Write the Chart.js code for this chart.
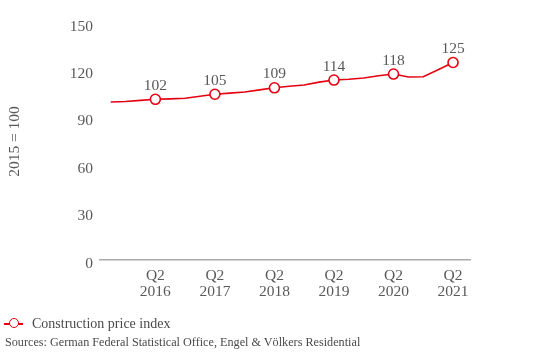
<!DOCTYPE html>
<html>
<head>
<meta charset="utf-8">
<script src="https://cdn.jsdelivr.net/npm/chart.js@4.4.1/dist/chart.umd.min.js"></script>
<style>
  body { margin: 0; background: #fff; font-family: "Liberation Serif", "Times New Roman", serif; }
  #wrap { position: relative; width: 538px; height: 363px; }
  #legend { position: absolute; left: 4px; top: 316px; font-size: 14px; color: #4a4a4a; display: flex; align-items: center; }
  .sym { position: relative; width: 19px; height: 1.6px; background: #e60012; margin-right: 9px; }
  .sym::after { content: ""; position: absolute; left: 4.5px; top: -5px; width: 8px; height: 8px; border: 1.6px solid #e60012; border-radius: 50%; background: #fff; }
  #source { position: absolute; left: 5px; top: 335px; font-size: 12.2px; color: #4a4a4a; }
</style>
</head>
<body>
<div id="wrap">
  <canvas id="chart"></canvas>
  <div id="legend"><span class="sym"></span>Construction price index</div>
  <div id="source">Sources: German Federal Statistical Office, Engel &amp; Völkers Residential</div>
</div>
<script>
// Quarterly construction price index, Q3 2015 - Q2 2021 (2015 = 100)
const quarters = ['Q3 2015', 'Q4 2015', 'Q1 2016', 'Q2 2016', 'Q3 2016', 'Q4 2016',
                  'Q1 2017', 'Q2 2017', 'Q3 2017', 'Q4 2017', 'Q1 2018', 'Q2 2018',
                  'Q3 2018', 'Q4 2018', 'Q1 2019', 'Q2 2019', 'Q3 2019', 'Q4 2019',
                  'Q1 2020', 'Q2 2020', 'Q3 2020', 'Q4 2020', 'Q1 2021', 'Q2 2021'];
const indexValues = [100.0, 100.3, 101.0, 101.7, 102.0, 102.4,
                     103.6, 104.9, 105.6, 106.3, 107.7, 109.0,
                     110.0, 110.8, 112.6, 113.9, 114.4, 115.2,
                     116.6, 117.7, 115.8, 116.0, 120.4, 125.0];
// Marked points (Q2 of each year) and their labels
const markedQuarters = ['Q2 2016', 'Q2 2017', 'Q2 2018', 'Q2 2019', 'Q2 2020', 'Q2 2021'];
const markerLabels = ['102', '105', '109', '114', '118', '125'];
const tickLabels = [['Q2', '2016'], ['Q2', '2017'], ['Q2', '2018'], ['Q2', '2019'], ['Q2', '2020'], ['Q2', '2021']];

const RED = '#e60012';
const TEXT = '#595959';
const FONT = '"Liberation Serif", "Times New Roman", serif';

const markedIdx = markedQuarters.map(q => quarters.indexOf(q));

// Draw value labels above the marked points
const valueLabels = {
    id: 'valueLabels',
    afterDatasetsDraw(chart) {
        const meta = chart.getDatasetMeta(0);
        const ctx = chart.ctx;
        ctx.save();
        ctx.font = '15.5px ' + FONT;
        ctx.fillStyle = TEXT;
        ctx.textAlign = 'center';
        ctx.textBaseline = 'middle';
        markedIdx.forEach((i, k) => {
            const pt = meta.data[i];
            ctx.fillText(markerLabels[k], pt.x, pt.y - 13.5);
        });
        ctx.restore();
    }
};

const ctx = document.getElementById('chart').getContext('2d');
new Chart(ctx, {
    type: 'line',
    data: {
        datasets: [{
            label: 'Construction price index',
            data: indexValues.map((v, i) => ({ x: i, y: v })),
            borderColor: RED,
            borderWidth: 1.6,
            tension: 0,
            pointRadius: c => markedIdx.includes(c.dataIndex) ? 5 : 0,
            pointHoverRadius: c => markedIdx.includes(c.dataIndex) ? 5 : 0,
            pointBackgroundColor: '#fff',
            pointBorderColor: RED,
            pointBorderWidth: 1.6
        }]
    },
    options: {
        responsive: true,
        maintainAspectRatio: false,
        animation: false,
        layout: { padding: { left: 0, right: 68, top: 23, bottom: 58 } },
        plugins: {
            legend: { display: false },
            tooltip: { enabled: false }
        },
        scales: {
            x: {
                type: 'linear',
                min: -0.72,
                max: 24.14,
                afterBuildTicks: axis => { axis.ticks = markedIdx.map(v => ({ value: v })); },
                afterFit: axis => { axis.height = 45; },
                grid: { display: false },
                border: { display: true, color: '#aaa', width: 1.5 },
                ticks: {
                    autoSkip: false,
                    maxRotation: 0,
                    padding: 0,
                    color: TEXT,
                    font: { family: FONT, size: 15.5, lineHeight: 1.05 },
                    callback: value => {
                        const k = markedIdx.indexOf(value);
                        return k >= 0 ? tickLabels[k] : '';
                    }
                }
            },
            y: {
                min: 0,
                max: 150,
                afterFit: axis => { axis.width = 100; },
                grid: { display: false, drawTicks: false },
                border: { display: false },
                ticks: {
                    stepSize: 30,
                    padding: 7,
                    labelOffset: 3.5,
                    color: TEXT,
                    font: { family: FONT, size: 15.5 }
                },
                title: {
                    display: true,
                    text: '2015 = 100',
                    color: TEXT,
                    font: { family: FONT, size: 15.5 },
                    padding: { top: 6, bottom: 0 }
                }
            }
        }
    },
    plugins: [valueLabels]
});
</script>
</body>
</html>
